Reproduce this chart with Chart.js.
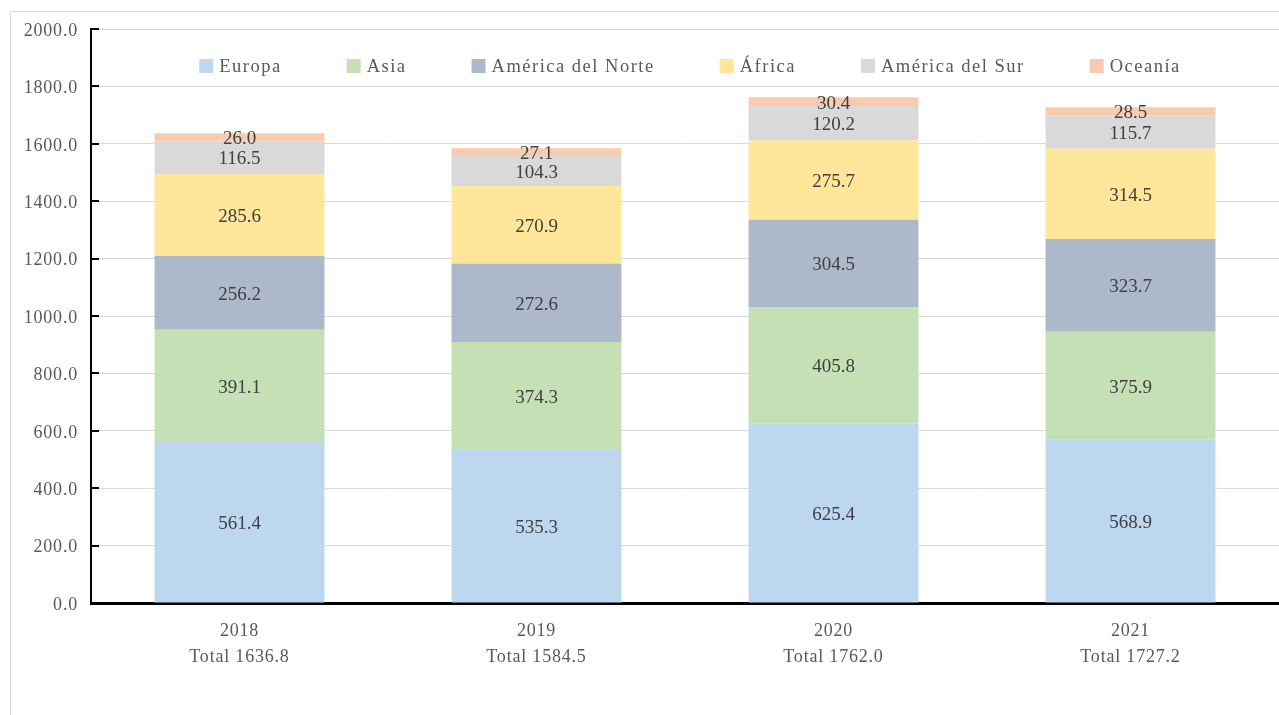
<!DOCTYPE html>
<html>
<head>
<meta charset="utf-8">
<script src="https://cdn.jsdelivr.net/npm/chart.js@4/dist/chart.umd.min.js"></script>
<style>
  html, body { margin: 0; padding: 0; background: #fff; overflow: hidden; }
  #wrap { width: 1279px; height: 715px; position: relative; }
</style>
</head>
<body>
<div id="wrap"><canvas id="c" width="1279" height="715"></canvas></div>
<script>
const years = ['2018', '2019', '2020', '2021'];
const totals = ['1636.8', '1584.5', '1762.0', '1727.2'];
const seriesNames = ['Europa', 'Asia', 'América del Norte', 'África', 'América del Sur', 'Oceanía'];
const europa = [561.4, 535.3, 625.4, 568.9];
const asia = [391.1, 374.3, 405.8, 375.9];
const americaNorte = [256.2, 272.6, 304.5, 323.7];
const africa = [285.6, 270.9, 275.7, 314.5];
const americaSur = [116.5, 104.3, 120.2, 115.7];
const oceania = [26.0, 27.1, 30.4, 28.5];
const seriesColors = ['#BDD7EE', '#C5E0B4', '#ADB9CA', '#FFE699', '#D9D9D9', '#F8CBAD'];
const yTicks = { min: 0, max: 2000, step: 200 };

const seriesData = [europa, asia, americaNorte, africa, americaSur, oceania];
const categoryLabels = years.map((y, i) => [y, 'Total ' + totals[i]]);

const FONT = "'Liberation Serif', 'Times New Roman', serif";

const framePlugin = {
  id: 'frame',
  beforeDraw(chart) {
    const ctx = chart.ctx;
    ctx.save();
    ctx.strokeStyle = '#D9D9D9';
    ctx.lineWidth = 1;
    ctx.strokeRect(10.5, 11.5, 2000, 2000);
    ctx.restore();
    try { ctx.letterSpacing = '0.8px'; } catch (e) {}
  },
  beforeDatasetsDraw(chart) {
    try { chart.ctx.letterSpacing = '0px'; } catch (e) {}
  },
  afterDatasetsDraw(chart) {
    const ctx = chart.ctx;
    const y = chart.scales.y;
    const area = chart.chartArea;
    // inside tick marks on y axis
    ctx.save();
    ctx.strokeStyle = '#000';
    ctx.lineWidth = 2;
    y.ticks.forEach(t => {
      const py = Math.round(y.getPixelForValue(t.value));
      ctx.beginPath();
      ctx.moveTo(area.left, py);
      ctx.lineTo(area.left + 8, py);
      ctx.stroke();
    });
    ctx.restore();

    // data labels
    ctx.save();
    ctx.font = '19px ' + FONT;
    ctx.fillStyle = '#404040';
    ctx.textAlign = 'center';
    ctx.textBaseline = 'middle';
    chart.data.datasets.forEach((ds, di) => {
      const meta = chart.getDatasetMeta(di);
      meta.data.forEach((bar, i) => {
        const v = ds.data[i];
        const cy = (bar.y + bar.base) / 2 + 2;
        ctx.fillText(v.toFixed(1), bar.x, cy);
      });
    });
    ctx.restore();

    // legend inside plot area
    ctx.save();
    try { ctx.letterSpacing = '1.5px'; } catch (e) {}
    ctx.font = '18.5px ' + FONT;
    ctx.textBaseline = 'middle';
    ctx.textAlign = 'left';
    const box = 14, gapText = 6, gapItem = 65;
    const widths = chart.data.datasets.map(ds => ctx.measureText(ds.label).width);
    let total = 0;
    widths.forEach((w, i) => { total += box + gapText + w + (i < widths.length - 1 ? gapItem : 0); });
    let x = (area.left + area.right) / 2 + 5 - total / 2;
    const ly = 66;
    chart.data.datasets.forEach((ds, i) => {
      ctx.fillStyle = ds.backgroundColor;
      ctx.fillRect(x, ly - box / 2, box, box);
      ctx.fillStyle = '#595959';
      ctx.fillText(ds.label, x + box + gapText, ly + 1);
      x += box + gapText + widths[i] + gapItem;
    });
    ctx.restore();
  }
};

new Chart(document.getElementById('c'), {
  type: 'bar',
  data: {
    labels: categoryLabels,
    datasets: seriesNames.map((name, i) => ({
      label: name,
      data: seriesData[i],
      backgroundColor: seriesColors[i],
      borderWidth: 0,
      categoryPercentage: 1,
      barPercentage: 0.572
    }))
  },
  options: {
    responsive: false,
    animation: false,
    layout: { padding: { top: 29, right: 0, bottom: 0, left: 0 } },
    plugins: {
      legend: { display: false },
      tooltip: { enabled: false }
    },
    scales: {
      x: {
        stacked: true,
        grid: { display: false, drawTicks: false },
        border: { display: true, color: '#000', width: 3 },
        ticks: {
          color: '#595959',
          font: { family: FONT, size: 18, lineHeight: 1.4 },
          padding: 16,
          maxRotation: 0,
          autoSkip: false
        },
        afterFit(s) { s.height = 112; }
      },
      y: {
        stacked: true,
        min: yTicks.min,
        max: yTicks.max,
        grid: { color: '#D9D9D9', lineWidth: 1, drawTicks: false },
        border: { display: true, color: '#000', width: 2 },
        ticks: {
          stepSize: yTicks.step,
          color: '#595959',
          font: { family: FONT, size: 18 },
          padding: 13,
          labelOffset: 2,
          callback: v => Number(v).toFixed(1)
        },
        afterFit(s) { s.width = 91; }
      }
    }
  },
  plugins: [framePlugin]
});
</script>
</body>
</html>
